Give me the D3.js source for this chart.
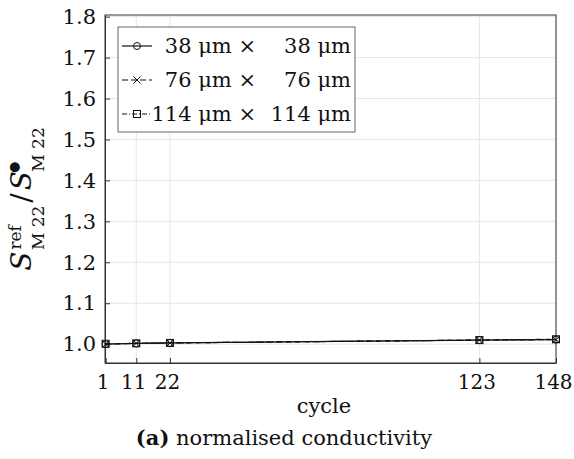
<!DOCTYPE html>
<html>
<head>
<meta charset="utf-8">
<script src="https://cdn.jsdelivr.net/npm/d3@7"></script>
<style>
  body { margin: 0; background: #fff; }
  text { font-family: "DejaVu Serif", serif; fill: #111; }
</style>
</head>
<body>
<div id="canvas"></div>
<script>
// data
const cycles = [1, 11, 22, 123, 148];
const series38 = [1.000, 1.002, 1.003, 1.010, 1.011];
const series76 = [1.000, 1.002, 1.003, 1.010, 1.011];
const series114 = [1.001, 1.002, 1.003, 1.010, 1.012];
const yTicks = [1.0, 1.1, 1.2, 1.3, 1.4, 1.5, 1.6, 1.7, 1.8];
const legendLeft = ["38 μm ×", "76 μm ×", "114 μm ×"];
const legendRight = ["38 μm", "76 μm", "114 μm"];

const W = 574, H = 459;
const margin = {top: 15, right: 18, bottom: 96, left: 105};
const width = W - margin.left - margin.right,
  height = H - margin.top - margin.bottom;

const svg = d3.select("#canvas").append("svg")
  .attr("width", W).attr("height", H);
const g = svg.append("g")
  .attr("transform", "translate(" + margin.left + "," + margin.top + ")");

const x = d3.scaleLinear().domain([0.8, 148]).range([0, width]);
const y = d3.scaleLinear().domain([0.954, 1.804]).range([height, 0]);

// grid
g.selectAll(".vgrid").data(cycles).join("line")
  .attr("x1", d => x(d)).attr("x2", d => x(d))
  .attr("y1", 0).attr("y2", height)
  .attr("stroke", "#e6e6e6").attr("stroke-width", 1);
g.selectAll(".hgrid").data(yTicks).join("line")
  .attr("x1", 0).attr("x2", width)
  .attr("y1", d => y(d)).attr("y2", d => y(d))
  .attr("stroke", "#e6e6e6").attr("stroke-width", 1);

// axes
const xAxis = g.append("g")
  .attr("transform", "translate(0," + height + ")")
  .call(d3.axisBottom(x).tickValues(cycles).tickSizeInner(-5).tickSizeOuter(0).tickPadding(12));
const yAxis = g.append("g")
  .call(d3.axisLeft(y).tickValues(yTicks).tickFormat(d3.format(".1f")).tickSizeInner(-5).tickSizeOuter(0).tickPadding(9));
[xAxis, yAxis].forEach(a => {
  a.select(".domain").attr("stroke", "#333");
  a.selectAll(".tick line").attr("stroke", "#333");
  a.selectAll("text").attr("font-family", "DejaVu Serif").attr("font-size", 21).attr("fill", "#111");
});
xAxis.selectAll("text").attr("dy", "0.72em").attr("font-size", 20).attr("dx", -3);

// box top / right
g.append("rect").attr("x", 0).attr("y", 0).attr("width", width).attr("height", height)
  .attr("fill", "none").attr("stroke", "#333").attr("stroke-width", 1);

// series
const allSeries = [
  {vals: series38, dash: null, marker: "circle"},
  {vals: series76, dash: "6,3", marker: "cross"},
  {vals: series114, dash: "5,2,1,2", marker: "square"}
];
const line = d3.line().x((d, i) => x(cycles[i])).y(d => y(d));

function drawMarker(sel, type, cx, cy) {
  if (type === "circle") {
    sel.append("circle").attr("cx", cx).attr("cy", cy).attr("r", 3.5)
      .attr("fill", "none").attr("stroke", "#111").attr("stroke-width", 1);
  } else if (type === "cross") {
    sel.append("path").attr("d", `M${cx-3.5},${cy-3.5}L${cx+3.5},${cy+3.5}M${cx-3.5},${cy+3.5}L${cx+3.5},${cy-3.5}`)
      .attr("stroke", "#111").attr("stroke-width", 1);
  } else {
    sel.append("rect").attr("x", cx - 3.5).attr("y", cy - 3.5).attr("width", 7).attr("height", 7)
      .attr("fill", "none").attr("stroke", "#111").attr("stroke-width", 1);
  }
}

allSeries.forEach(s => {
  g.append("path").datum(s.vals)
    .attr("fill", "none").attr("stroke", "#111").attr("stroke-width", 1.2)
    .attr("stroke-dasharray", s.dash)
    .attr("d", line);
  const mg = g.append("g");
  s.vals.forEach((v, i) => drawMarker(mg, s.marker, x(cycles[i]), y(v)));
});

// legend
const lg = svg.append("g");
lg.append("rect").attr("x", 118).attr("y", 27).attr("width", 237).attr("height", 105)
  .attr("fill", "#fff").attr("stroke", "#666").attr("stroke-width", 1);
allSeries.forEach((s, i) => {
  const cy = 46 + i * 34;
  lg.append("line").attr("x1", 122).attr("x2", 152).attr("y1", cy).attr("y2", cy)
    .attr("stroke", "#111").attr("stroke-width", 1.2).attr("stroke-dasharray", s.dash);
  drawMarker(lg, s.marker, 137, cy);
  lg.append("text").attr("x", 256).attr("y", cy + 7).attr("text-anchor", "end")
    .attr("font-size", 21).text(legendLeft[i]);
  lg.append("text").attr("x", 351).attr("y", cy + 7).attr("text-anchor", "end")
    .attr("font-size", 21).text(legendRight[i]);
});

// y label
const yl = svg.append("text")
  .attr("transform", "translate(31,199) rotate(-90)")
  .attr("text-anchor", "middle").attr("font-size", 28);
yl.append("tspan").attr("font-style", "italic").text("S");
yl.append("tspan").attr("font-size", 17).attr("dx", 2).attr("dy", -10).text("ref");
yl.append("tspan").attr("font-size", 17).attr("dx", -25).attr("dy", 23).text("M 22");
yl.append("tspan").attr("dx", 3).attr("dy", -13).text("/");
yl.append("tspan").attr("font-style", "italic").attr("dx", 3).text("S");
yl.append("tspan").attr("font-size", 13).attr("dx", -2).attr("dy", -13).text("●");
yl.append("tspan").attr("font-size", 17).attr("dx", -10).attr("dy", 26).text("M 22");

// x label and caption
svg.append("text").attr("x", 324).attr("y", 413).attr("text-anchor", "middle")
  .attr("font-size", 21).text("cycle");
const cap = svg.append("text").attr("x", 284).attr("y", 445).attr("text-anchor", "middle")
  .attr("font-size", 21);
cap.append("tspan").attr("font-weight", "bold").text("(a)");
cap.append("tspan").text(" normalised conductivity");
</script>
</body>
</html>
